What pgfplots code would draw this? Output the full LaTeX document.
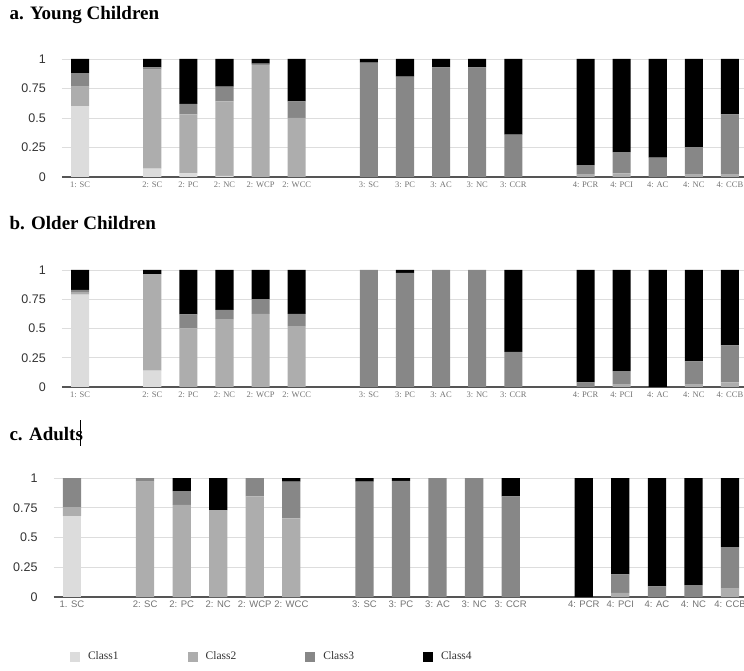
\documentclass[border=0pt]{standalone}
\usepackage{pgfplots}
\pgfplotsset{compat=1.18}
\usepackage{pgfplotstable}
\usepackage{fontspec}
\setmainfont{Liberation Serif}
\newfontfamily\sansf{Liberation Sans}
\definecolor{cA}{HTML}{DCDCDC}
\definecolor{cB}{HTML}{ADADAD}
\definecolor{cC}{HTML}{878787}
\definecolor{cD}{HTML}{000000}
\definecolor{gridc}{HTML}{DDDDDD}
\definecolor{axc}{HTML}{555555}

\pgfplotstableread{
x  c1    c2    c3    c4
0  0.60  0.165 0.115 0.12
2  0.07  0.84  0.02  0.07
3  0.03  0.50  0.09  0.38
4  0.01  0.63  0.125 0.235
5  0     0.95  0.01  0.04
6  0     0.50  0.14  0.36
8  0     0     0.97  0.03
9  0     0     0.85  0.15
10 0     0     0.93  0.07
11 0     0     0.93  0.07
12 0     0     0.36  0.64
14 0     0.02  0.08  0.90
15 0     0.03  0.18  0.79
16 0     0     0.165 0.835
17 0     0.02  0.23  0.75
18 0     0.02  0.51  0.47
}\tabA

\pgfplotstableread{
x  c1    c2    c3    c4
0  0.79  0.02  0.02  0.17
2  0.14  0.825 0     0.035
3  0     0.50  0.12  0.38
4  0     0.58  0.08  0.34
5  0     0.625 0.125 0.25
6  0     0.52  0.105 0.375
8  0     0     1.0   0
9  0     0     0.975 0.025
10 0     0     1.0   0
11 0     0     1.0   0
12 0     0     0.30  0.70
14 0     0     0.04  0.96
15 0     0.02  0.115 0.865
16 0     0     0     1.0
17 0     0.02  0.20  0.78
18 0     0.04  0.315 0.645
}\tabB

\pgfplotstableread{
x  c1    c2    c3    c4
0  0.68  0.075 0.245 0
2  0     0.97  0.03  0
3  0     0.775 0.115 0.11
4  0     0.73  0     0.27
5  0     0.845 0.155 0
6  0     0.66  0.31  0.03
8  0     0     0.97  0.03
9  0     0     0.975 0.025
10 0     0     1.0   0
11 0     0     1.0   0
12 0     0     0.845 0.155
14 0     0     0     1.0
15 0     0.035 0.155 0.81
16 0     0     0.09  0.91
17 0     0     0.10  0.90
18 0     0.07  0.35  0.58
}\tabC

\pgfplotsset{
  panel/.style={
    scale only axis, ybar stacked, bar width=0.5,
    xmin=-0.5, xmax=18.5, ymin=0, ymax=1,
    clip=false,
    ytick={0,0.25,0.5,0.75,1},
    yticklabels={0,0.25,0.5,0.75,1},
    xtick={0,2,3,4,5,6,8,9,10,11,12,14,15,16,17,18},
    axis line style={draw=none},
    tick style={draw=none},
    major tick length=0pt,
    ymajorgrids, grid style={gridc, line width=0.8pt},
    yticklabel style={font=\sansf\fontsize{12.5}{14}\selectfont, text=black!80, anchor=east, inner sep=0pt, xshift=-16pt},
    every axis plot/.append style={draw=none},
  },
  serifx/.style={
    xticklabels={1: SC,2: SC,2: PC,2: NC,2: WCP,2: WCC,3: SC,3: PC,3: AC,3: NC,3: CCR,4: PCR,4: PCI,4: AC,4: NC,4: CCB},
    xticklabel style={font=\fontsize{8.5}{10}\selectfont, text=black!55, inner sep=0pt, yshift=-5pt},
  },
}

\begin{document}
\begin{tikzpicture}
% ---- panel a
\node[anchor=base west, font=\fontsize{19}{22}\selectfont\bfseries] at (6pt,650pt) {a. Young Children};
\begin{axis}[panel, serifx, at={(62pt,493pt)}, anchor=south west, width=686pt, height=118pt]
\addplot[fill=cA] table[x=x,y=c1]{\tabA};
\addplot[fill=cB] table[x=x,y=c2]{\tabA};
\addplot[fill=cC] table[x=x,y=c3]{\tabA};
\addplot[fill=cD] table[x=x,y=c4]{\tabA};
\draw[axc, line width=2pt] (axis cs:-0.5,0) -- (axis cs:18.5,0);
\end{axis}
% ---- panel b
\node[anchor=base west, font=\fontsize{19}{22}\selectfont\bfseries] at (6pt,440pt) {b. Older Children};
\begin{axis}[panel, serifx, at={(62pt,283pt)}, anchor=south west, width=686pt, height=117pt]
\addplot[fill=cA] table[x=x,y=c1]{\tabB};
\addplot[fill=cB] table[x=x,y=c2]{\tabB};
\addplot[fill=cC] table[x=x,y=c3]{\tabB};
\addplot[fill=cD] table[x=x,y=c4]{\tabB};
\draw[axc, line width=2pt] (axis cs:-0.5,0) -- (axis cs:18.5,0);
\end{axis}
% ---- panel c
\node[anchor=base west, font=\fontsize{19}{22}\selectfont\bfseries] at (6pt,230pt) {c. Adults};
\draw[black, line width=0.9pt] (80.5pt,250pt) -- (80.5pt,224pt);
\begin{axis}[panel, at={(53.7pt,73pt)}, anchor=south west, width=694.6pt, height=119pt,
  xticklabels={1. SC,2: SC,2: PC,2: NC,2: WCP,2: WCC,3: SC,3: PC,3: AC,3: NC,3: CCR,4: PCR,4: PCI,4: AC,4: NC,4: CCB},
  xticklabel style={font=\sansf\fontsize{9.5}{11}\selectfont, text=black!55, inner sep=0pt, yshift=-4pt},
  legend style={at={(0.0235,-0.50)}, anchor=west, draw=none, fill=none, inner sep=0pt, outer sep=0pt,
    font=\fontsize{11.5}{13}\selectfont, text=black!80,
    legend columns=4,
    /tikz/every odd column/.append style={column sep=8pt},
    /tikz/every even column/.append style={column sep=69pt},
    nodes={inner sep=0pt}},
  legend cell align=left,
  legend image code/.code={\fill[#1] (0pt,-5pt) rectangle (10pt,5pt);},
]
\addplot[fill=cA] table[x=x,y=c1]{\tabC};
\addplot[fill=cB] table[x=x,y=c2]{\tabC};
\addplot[fill=cC] table[x=x,y=c3]{\tabC};
\addplot[fill=cD] table[x=x,y=c4]{\tabC};
\draw[axc, line width=2pt] (axis cs:-0.5,0) -- (axis cs:18.5,0);
\legend{Class1,Class2,Class3,Class4}
\end{axis}
\pgfresetboundingbox
\useasboundingbox (0pt,0pt) rectangle (744pt,670pt);
\end{tikzpicture}
\end{document}
